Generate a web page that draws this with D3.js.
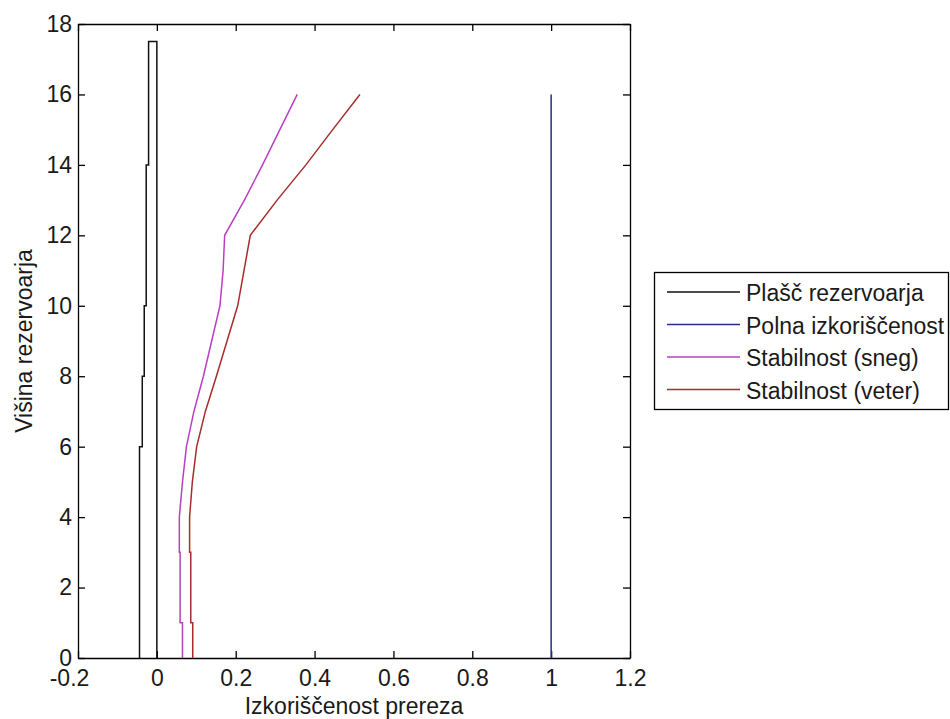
<!DOCTYPE html>
<html lang="sl">
<head>
  <meta charset="UTF-8" />
  <title>Izkoriščenost prereza</title>
  <script src="https://d3js.org/d3.v7.min.js"></script>
  <style>
    body {
      margin: 0;
      background: #fff;
      overflow: hidden;
    }

    svg {
      font-family: "Liberation Sans", Arial, sans-serif;
    }

    .axis text {
      font-size: 23px;
      fill: #1a1a1a;
      font-family: "Liberation Sans", Arial, sans-serif;
    }

    .axis path,
    .axis line {
      stroke: #000;
      stroke-width: 1.3px;
    }

    .title {
      font-size: 23px;
      fill: #1a1a1a;
    }

    .legend text {
      font-size: 23px;
      fill: #1a1a1a;
    }
  </style>
</head>
<body>
  <svg width="950" height="719"></svg>
  <script>
    // tick labels
    const xTicks = [-0.2, 0, 0.2, 0.4, 0.6, 0.8, 1, 1.2];
    const yTicks = [0, 2, 4, 6, 8, 10, 12, 14, 16, 18];

    // plašč rezervoarja (shell outline)
    const shellHeights = [0, 17.5, 17.5, 14, 14, 10, 10, 8, 8, 6, 6, 0];
    const shellX = [0, 0, -0.021, -0.021, -0.027, -0.027, -0.032, -0.032, -0.037, -0.037, -0.044, -0.044];

    // polna izkoriščenost
    const fullHeights = [0, 16];
    const fullX = [1, 1];

    // stabilnost (sneg / veter)
    const heights = [0, 1, 1, 3, 3, 4, 5, 6, 7, 8, 9, 10, 11, 12, 13, 14, 15, 16];
    const snowX = [0.065, 0.065, 0.059, 0.059, 0.057, 0.057, 0.065, 0.075, 0.094, 0.118, 0.139, 0.160, 0.168, 0.172, 0.222, 0.268, 0.312, 0.356];
    const windX = [0.091, 0.091, 0.086, 0.086, 0.083, 0.083, 0.090, 0.101, 0.123, 0.151, 0.178, 0.205, 0.221, 0.237, 0.305, 0.378, 0.446, 0.515];

    const seriesNames = ["Plašč rezervoarja", "Polna izkoriščenost", "Stabilnost (sneg)", "Stabilnost (veter)"];
    const seriesColors = ["#111111", "#2a2a8a", "#b840c0", "#a82c2c"];

    const svg = d3.select("svg");

    const plotLeft = 78, plotRight = 630, plotTop = 24, plotBottom = 658;

    const x = d3.scaleLinear().domain([-0.2, 1.2]).range([plotLeft, plotRight]);
    const y = d3.scaleLinear().domain([0, 18]).range([plotBottom, plotTop]);

    const fmt = d => String(+d.toFixed(1));

    // axes, ticks inside on all four sides
    svg.append("g")
      .attr("class", "axis")
      .attr("transform", `translate(0,${plotBottom})`)
      .call(d3.axisBottom(x).tickValues(xTicks).tickFormat(fmt)
        .tickSizeInner(-7).tickSizeOuter(0).tickPadding(12))
      .selectAll(".tick text")
      .attr("dx", d => d < 0 ? -9 : 0);

    svg.append("g")
      .attr("class", "axis")
      .attr("transform", `translate(0,${plotTop})`)
      .call(d3.axisTop(x).tickValues(xTicks).tickFormat("")
        .tickSizeInner(-7).tickSizeOuter(0));

    svg.append("g")
      .attr("class", "axis")
      .attr("transform", `translate(${plotLeft},0)`)
      .call(d3.axisLeft(y).tickValues(yTicks).tickFormat(fmt)
        .tickSizeInner(-7).tickSizeOuter(0).tickPadding(6));

    svg.append("g")
      .attr("class", "axis")
      .attr("transform", `translate(${plotRight},0)`)
      .call(d3.axisRight(y).tickValues(yTicks).tickFormat("")
        .tickSizeInner(-7).tickSizeOuter(0));

    // data lines
    const line = d3.line().x(d => x(d[0])).y(d => y(d[1]));
    const series = [
      d3.zip(shellX, shellHeights),
      d3.zip(fullX, fullHeights),
      d3.zip(snowX, heights),
      d3.zip(windX, heights)
    ];

    svg.append("g")
      .selectAll("path")
      .data(series)
      .join("path")
      .attr("d", line)
      .attr("fill", "none")
      .attr("stroke", (d, i) => seriesColors[i])
      .attr("stroke-width", 1.5);

    // axis titles
    svg.append("text")
      .attr("class", "title")
      .attr("x", (plotLeft + plotRight) / 2)
      .attr("y", 714)
      .attr("text-anchor", "middle")
      .text("Izkoriščenost prereza");

    svg.append("text")
      .attr("class", "title")
      .attr("transform", `translate(32,${(plotTop + plotBottom) / 2}) rotate(-90)`)
      .attr("text-anchor", "middle")
      .text("Višina rezervoarja");

    // legend
    const legend = svg.append("g").attr("class", "legend");

    legend.append("rect")
      .attr("x", 654.5)
      .attr("y", 272.5)
      .attr("width", 294)
      .attr("height", 137)
      .attr("fill", "#fff")
      .attr("stroke", "#000")
      .attr("stroke-width", 1.3);

    const rows = legend.selectAll("g.row")
      .data(seriesNames)
      .join("g")
      .attr("class", "row")
      .attr("transform", (d, i) => `translate(0,${292 + i * 32.5})`);

    rows.append("line")
      .attr("x1", 667)
      .attr("x2", 740)
      .attr("stroke", (d, i) => seriesColors[i])
      .attr("stroke-width", 1.5);

    rows.append("text")
      .attr("x", 746)
      .attr("y", 9)
      .text(d => d);
  </script>
</body>
</html>
